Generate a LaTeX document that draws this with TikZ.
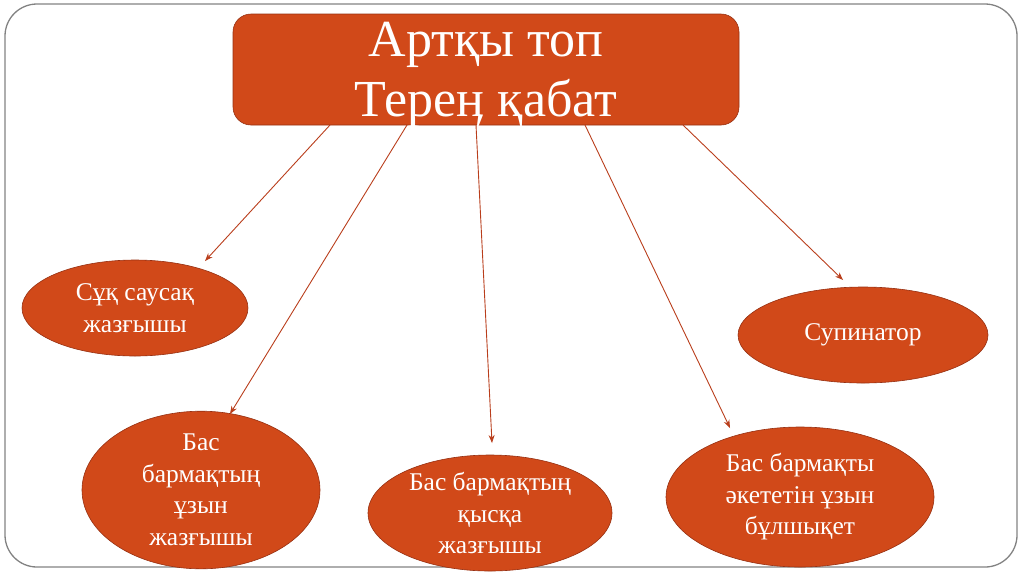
\documentclass[tikz,border=0pt]{standalone}
\usepackage{fontspec}
\setmainfont{Liberation Serif}
\usetikzlibrary{shapes.geometric,arrows.meta}
\definecolor{boxfill}{RGB}{209,73,25}
\definecolor{boxdraw}{RGB}{150,48,18}
\definecolor{arrcol}{RGB}{185,62,28}
\definecolor{framecol}{RGB}{130,130,130}
\tikzset{
  ell/.style={ellipse, fill=boxfill, draw=boxdraw, line width=0.6pt, inner sep=0pt, text=white, align=center, font=\fontsize{25.5}{31.5}\selectfont},
  arr/.style={draw=arrcol, line width=0.9pt, -{Stealth[length=8pt,width=6pt]}},
}
\begin{document}
\begin{tikzpicture}[x=1pt,y=-1pt]
\useasboundingbox (0,0) rectangle (1024,574);
\draw[framecol, line width=1.3pt, rounded corners=32pt] (5,4) rectangle (1017,567);
\node[fill=boxfill, draw=boxdraw, line width=0.6pt, rounded corners=18pt, minimum width=506pt, minimum height=111pt, inner sep=0pt] (top) at (486,69.5) {};
\node[text=white, align=center, inner sep=0pt, font=\fontsize{52}{60}\selectfont] (toptext) at (486,75) {Артқы топ\\Тереӊ қабат};
\node[ell, minimum width=226pt, minimum height=96pt] (e1) at (135,308) {Сұқ саусақ\\жазғышы};
\node[ell, minimum width=250pt, minimum height=96pt] (e2) at (863,335) {Супинатор};
\node[ell, minimum width=238pt, minimum height=140pt] (e3) at (201,490) {Бас\\бармақтың\\ұзын\\жазғышы};
\node[ell, minimum width=244pt, minimum height=116pt] (e4) at (490,513) {Бас бармақтың\\қысқа\\жазғышы};
\node[ell, minimum width=268pt, minimum height=140pt] (e5) at (800,497) {Бас бармақты\\әкететін ұзын\\бұлшықет};
\coordinate (s1) at (330,125);
\coordinate (s2) at (407,125);
\coordinate (s3) at (476,125);
\coordinate (s4) at (585,125);
\coordinate (s5) at (683,125);
\coordinate (t1) at (205,261);
\coordinate (t2) at (230,414);
\coordinate (t3) at (492,443);
\coordinate (t4) at (730,428);
\coordinate (t5) at (843,280);
\draw[arr] (s1) -- (t1);
\draw[arr] (s2) -- (t2);
\draw[arr] (s3) -- (t3);
\draw[arr] (s4) -- (t4);
\draw[arr] (s5) -- (t5);
\end{tikzpicture}
\end{document}
